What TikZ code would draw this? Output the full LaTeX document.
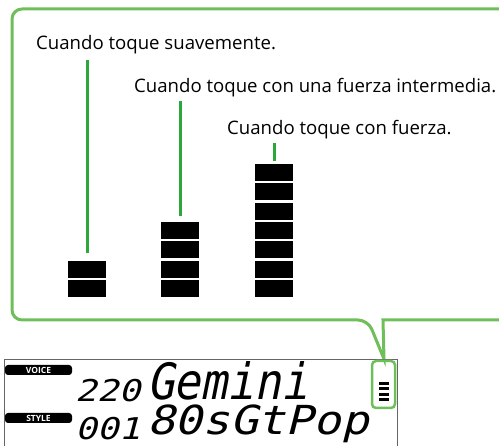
\documentclass[tikz,border=0pt]{standalone}
\usepackage{fontspec}
\setmainfont{Open Sans}
\newfontfamily\lcdfont[FakeSlant=0.22]{DejaVu Sans Mono}
\usetikzlibrary{positioning}
\definecolor{callgreen}{RGB}{110,190,90}
\definecolor{leadgreen}{RGB}{44,168,58}

\begin{document}
\begin{tikzpicture}[x=1pt,y=-1pt,
  lbl/.style={font=\fontsize{18.6}{22}\selectfont,inner sep=0pt,anchor=base west},
  blk/.style={fill=black,inner sep=0pt,minimum width=38pt,minimum height=17pt},
  lead/.style={draw=leadgreen,line width=3pt},
  frame/.style={draw=callgreen,line width=3pt,rounded corners=10pt},
  tag/.style={fill=black,text=white,rounded corners=3pt,inner sep=0pt,minimum width=67pt,
    minimum height=10pt,font=\bfseries\fontsize{8.5}{8.5}\selectfont},
  lcd/.style={inner sep=0pt,anchor=base west}]
\useasboundingbox (0,0) rectangle (499,446);

% --- callout --------------------------------------------------------------
\draw[frame] (520,9) -- (12,9) -- (12,320) -- (368,320)
  [sharp corners] -- (384,359) -- (383,320) [rounded corners=10pt] -- (520,320);

% --- labels ---------------------------------------------------------------
\node[lbl] (lblsoft) at (36,50) {Cuando toque suavemente.};
\node[lbl] (lblmid)  at (134,93) {Cuando toque con una fuerza intermedia.};
\node[lbl] (lblhard) at (227,135) {Cuando toque con fuerza.};

% --- level meters ---------------------------------------------------------
\foreach \i in {1,2}
  \node[blk] (soft\i) at (87,288.5-19.3*\i+19.3) {};
\foreach \i in {1,...,4}
  \node[blk] (mid\i) at (180,288.5-19.3*\i+19.3) {};
\foreach \i in {1,...,7}
  \node[blk] (hard\i) at (274,288.5-19.3*\i+19.3) {};

\draw[lead,shorten <=10pt,shorten >=7pt] (soft2.north |- lblsoft.base) -- (soft2.north);
\draw[lead,shorten <=8pt,shorten >=6pt] (mid4.north |- lblmid.base) -- (mid4.north);
\draw[lead,shorten <=8pt,shorten >=3pt] (hard7.north |- lblhard.base) -- (hard7.north);

% --- display --------------------------------------------------------------
\draw[gray!80!black,line width=0.7pt] (4,446) -- (4,359) -- (397,359) -- (397,446);
\node[tag] (voice) at (38.5,370) {VOICE};
\node[tag] (style) at (38.5,418) {STYLE};
\node[lcd,font=\lcdfont\fontsize{30}{30}\selectfont,xscale=1.2] (vnum) at (75,402) {220};
\node[lcd,font=\lcdfont\fontsize{50}{50}\selectfont,xscale=0.89] (vname) at (147,400) {Gemini};
\node[lcd,font=\lcdfont\fontsize{30}{30}\selectfont,xscale=1.2] (snum) at (75,440) {001};
\node[lcd,font=\lcdfont\fontsize{40}{40}\selectfont,xscale=1.15] (sname) at (147,435) {80sGtPop};

% --- indicator ------------------------------------------------------------
\draw[draw=callgreen,line width=2.5pt,rounded corners=4pt] (372,361) rectangle (395,408);
\foreach \j in {0,...,3}
  \fill (379,382+5.3*\j) rectangle (389,385+5.3*\j);
\end{tikzpicture}
\end{document}
